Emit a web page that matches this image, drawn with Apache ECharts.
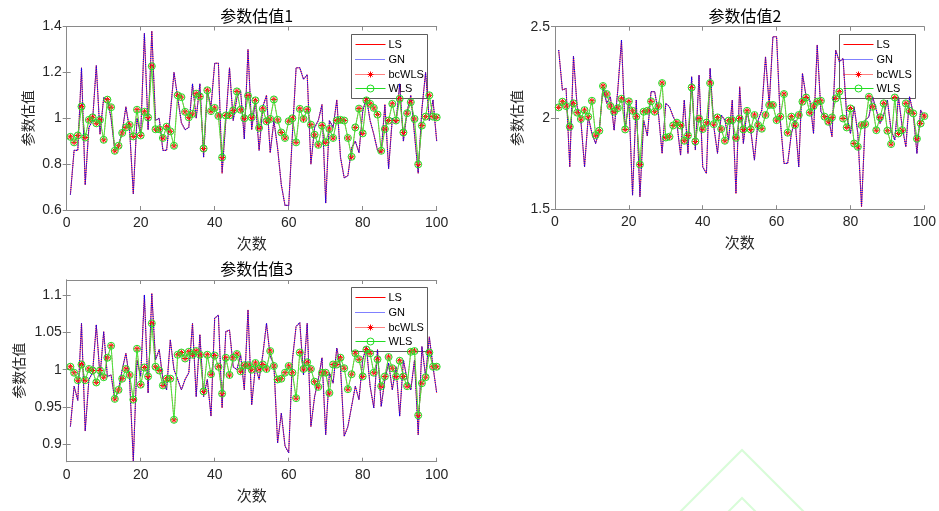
<!DOCTYPE html>
<html>
<head>
<meta charset="utf-8">
<script src="https://cdn.jsdelivr.net/npm/echarts@6/dist/echarts.min.js"></script>
<style>
  html, body { margin: 0; padding: 0; background: #fff; }
  #chart { width: 939px; height: 511px; }
</style>
</head>
<body>
<div id="chart"></div>
<script>
// 次数 1..100
const runs = [];
for (let i = 1; i <= 100; i++) runs.push(i);

const titles = ['参数估值1', '参数估值2', '参数估值3'];
const seriesNames = ['LS', 'GN', 'bcWLS', 'WLS'];

// 参数估值1
const ls1 = [0.667,0.86,0.86,1.22,0.71,0.96,0.99,1.23,0.93,1.09,1.08,1.00,0.86,0.88,0.94,1.05,0.95,0.67,1.00,0.93,
  1.37,0.95,1.38,0.99,1.00,0.86,0.86,1.02,1.20,1.09,0.98,0.95,0.96,1.15,1.00,1.15,0.83,1.12,1.05,1.24,
  1.24,0.76,0.99,1.22,0.99,1.09,1.12,0.91,1.30,0.95,1.08,0.86,1.05,1.10,0.85,0.99,0.87,0.71,0.62,0.62,
  0.93,1.22,1.22,1.17,1.19,0.80,0.96,0.99,1.06,0.63,0.99,0.96,1.08,0.83,0.74,0.75,0.87,0.90,0.85,1.03,
  1.09,0.99,0.93,0.86,0.85,1.06,0.78,1.00,0.98,1.15,0.90,1.03,1.10,0.93,0.76,1.04,1.20,0.99,1.08,0.90];
const wls1 = [0.919,0.895,0.925,1.051,0.916,0.993,1.004,0.978,0.993,0.906,1.081,1.048,0.858,0.880,0.936,0.960,0.971,0.921,1.037,0.925,
  1.028,1.003,1.227,0.952,0.952,0.914,0.963,0.943,0.880,1.100,1.092,1.028,1.004,1.019,1.107,1.095,0.868,1.122,1.031,1.045,
  1.010,0.829,1.012,1.013,1.034,1.117,1.037,1.000,1.098,1.004,1.078,0.958,1.041,0.987,0.997,1.082,0.993,0.938,0.914,0.987,
  1.000,0.895,1.041,0.997,1.037,0.972,0.928,0.884,0.968,0.895,0.953,0.914,0.990,0.993,0.990,0.914,0.832,0.960,1.042,0.934,
  1.078,1.063,1.045,1.016,0.858,0.953,0.990,1.063,0.990,1.085,0.938,1.022,1.070,0.997,0.799,0.968,1.007,1.100,1.007,1.004];

// 参数估值2
const ls2 = [2.372,2.153,2.162,1.732,2.339,2.061,1.988,1.732,2.007,1.915,1.860,1.933,2.171,2.080,2.116,1.933,2.153,2.427,1.933,2.098,
  1.577,2.098,1.568,1.988,1.901,2.144,2.144,2.025,1.806,2.080,2.061,2.007,1.970,1.796,2.098,1.806,2.226,1.824,2.235,1.732,
  1.696,2.272,1.952,1.806,2.016,1.988,1.879,2.098,1.586,2.171,1.860,2.043,1.933,1.769,1.988,2.043,2.335,2.071,2.445,2.445,
  1.988,1.751,1.751,1.915,1.988,1.732,2.244,2.116,2.098,1.915,2.400,2.034,2.007,2.007,1.897,2.372,2.308,2.326,2.007,1.915,
  2.061,1.915,1.513,1.988,2.007,2.116,2.043,1.970,2.016,2.098,1.933,1.879,2.116,1.952,1.842,2.116,2.025,1.806,2.043,2.007];
const wls2 = [2.058,2.089,2.065,1.952,2.080,2.029,1.994,2.043,2.007,2.094,1.906,1.930,2.175,2.131,2.065,2.034,2.054,2.105,1.937,2.091,
  2.039,2.007,1.745,2.034,2.039,2.091,2.034,2.065,2.191,1.893,1.897,1.959,1.974,1.959,1.875,1.904,2.167,1.871,1.996,1.939,
  1.974,2.191,1.966,2.003,1.939,1.875,1.985,1.988,1.891,1.997,1.937,2.039,1.937,2.016,1.961,1.941,2.016,2.071,2.071,1.988,
  2.007,2.131,1.919,2.007,1.961,2.016,2.089,2.112,2.029,2.065,2.089,2.094,2.007,1.979,2.003,2.107,2.144,1.997,1.948,2.052,
  1.860,1.842,1.961,1.966,2.116,2.061,1.933,2.003,2.080,1.930,1.857,2.112,1.915,1.933,2.080,2.039,2.025,1.886,1.970,2.010];

// 参数估值3
const ls3 = [0.924,0.978,0.959,1.062,0.918,0.987,0.996,1.060,0.991,1.051,0.991,0.993,0.960,0.973,1.000,1.022,0.987,0.878,1.013,0.991,
  1.100,0.969,1.102,1.013,1.027,0.987,0.973,1.040,1.000,0.987,0.973,0.987,0.996,1.062,0.964,1.047,0.964,0.987,0.938,1.069,
  1.073,0.949,1.051,1.053,1.004,1.000,1.020,0.973,1.080,0.953,1.004,0.987,1.020,1.062,1.018,1.007,0.902,0.942,0.898,0.889,
  1.013,1.058,1.063,0.993,1.062,0.924,0.964,0.987,1.016,0.913,0.996,0.982,1.029,1.004,0.911,0.924,0.951,0.978,0.960,1.013,
  1.031,0.978,0.949,1.027,0.951,0.987,1.009,0.973,1.004,0.938,1.013,0.987,0.973,1.013,0.913,1.031,0.991,1.044,1.004,0.969];
const wls3 = [1.004,0.996,0.986,1.007,0.986,1.001,0.999,0.983,0.999,0.990,1.016,1.032,0.961,0.973,0.988,1.001,0.993,0.960,1.028,0.980,
  1.003,0.991,1.062,1.004,0.999,0.979,0.988,0.988,0.933,1.020,1.023,1.015,1.024,1.020,1.025,1.020,0.971,1.020,0.994,1.019,
  1.004,0.968,1.016,0.993,1.016,1.021,0.998,1.006,1.006,1.000,1.009,1.001,1.007,1.001,1.025,1.005,0.987,0.988,0.996,1.005,
  0.996,0.962,1.023,1.001,1.010,1.001,0.984,0.977,0.996,0.996,0.969,1.007,1.007,1.016,1.002,0.974,0.994,1.022,1.014,0.991,
  1.027,1.022,0.996,1.014,0.978,0.991,1.017,1.002,0.991,1.012,0.991,0.978,1.024,1.025,0.939,0.982,0.990,1.023,1.004,1.004];

const lsData = [ls1, ls2, ls3];
const wlsData = [wls1, wls2, wls3];
const yRanges = [
  { min: 0.6, max: 1.4, ticks: [0.6, 0.8, 1, 1.2, 1.4] },
  { min: 1.5, max: 2.5, ticks: [1.5, 2, 2.5] },
  { min: 0.877, max: 1.12, ticks: [0.9, 0.95, 1, 1.05, 1.1] }
];

const grids = [
  { left: 66.7, top: 26.5, width: 370, height: 183.5 },
  { left: 555, top: 26.7, width: 370, height: 182.5 },
  { left: 66.7, top: 280, width: 370, height: 181.7 }
];
const nameGaps = [32, 31, 41];

const axisCol = '#8a8a8a';
const txtCol = '#262626';
const latin = 'Liberation Sans';
const cjk = 'Noto Sans CJK SC';
const starPath = 'M0,-10L0,10M-10,0L10,0M-7,-7L7,7M-7,7L7,-7';
const red = '#ff0000', blue = '#0000ff', green = '#22dd22';

function pairs(ys) { return ys.map((v, i) => [runs[i], v]); }

// legend box drawn by hand so that each entry looks like the MATLAB one
function legendBox(g) {
  const x0 = Math.round(g.left + g.width - 86) + 0.5, y0 = Math.round(g.top + 7) + 0.5;
  const kids = [{
    type: 'rect', shape: { x: x0, y: y0, width: 76, height: 64 },
    style: { fill: '#fff', stroke: '#333', lineWidth: 0.8 }
  }];
  const rowY = [10, 25, 40, 54];
  seriesNames.forEach((nm, j) => {
    const cy = y0 + rowY[j];
    const stroke = (j === 1) ? blue : (j === 3 ? green : red);
    const ln = { type: 'line', shape: { x1: x0 + 4, y1: cy, x2: x0 + 34, y2: cy },
      style: { stroke, lineWidth: 1 } };
    if (j === 1 || j === 2) ln.style.lineDash = [1, 1];
    kids.push(ln);
    if (j === 2) {
      const cx = x0 + 19, s = 3;
      [[0, -s, 0, s], [-s, 0, s, 0], [-2.1, -2.1, 2.1, 2.1], [-2.1, 2.1, 2.1, -2.1]].forEach(p => {
        kids.push({ type: 'line', shape: { x1: cx + p[0], y1: cy + p[1], x2: cx + p[2], y2: cy + p[3] },
          style: { stroke: red, lineWidth: 1 } });
      });
    }
    if (j === 3) {
      kids.push({ type: 'circle', shape: { cx: x0 + 19, cy, r: 3.5 },
        style: { stroke: green, lineWidth: 1, fill: 'rgba(0,0,0,0)' } });
    }
    kids.push({
      type: 'text', x: x0 + 37, y: cy,
      style: { text: nm, fill: '#000', fontSize: 11, fontFamily: latin, verticalAlign: 'middle', align: 'left' }
    });
  });
  return { type: 'group', silent: true, z: 100, children: kids };
}

const xAxis = [], yAxis = [], series = [], title = [], graphic = [];
grids.forEach((g, k) => {
  xAxis.push({
    type: 'value', gridIndex: k, min: 0, max: 100, interval: 20,
    name: '次数', nameLocation: 'middle', nameGap: 26,
    nameTextStyle: { color: txtCol, fontSize: 15, fontFamily: cjk },
    axisLine: { lineStyle: { color: axisCol, width: 1 } },
    axisTick: { inside: true, length: 4, lineStyle: { color: axisCol } },
    axisLabel: { color: txtCol, fontSize: 14, fontFamily: latin, margin: 6 },
    splitLine: { show: false }
  });
  xAxis.push({
    type: 'value', gridIndex: k, min: 0, max: 100, interval: 20, position: 'top',
    axisLine: { lineStyle: { color: axisCol, width: 1 } },
    axisTick: { inside: true, length: 4, lineStyle: { color: axisCol } },
    axisLabel: { show: false }, splitLine: { show: false }
  });
  const r = yRanges[k];
  yAxis.push({
    type: 'value', gridIndex: k, min: r.min, max: r.max,
    name: '参数估值', nameLocation: 'middle', nameGap: nameGaps[k], nameRotate: 90,
    nameTextStyle: { color: txtCol, fontSize: 14, fontFamily: cjk },
    axisLine: { show: true, lineStyle: { color: axisCol, width: 1 } },
    axisTick: { show: true, inside: true, length: 4, customValues: r.ticks, lineStyle: { color: axisCol } },
    axisLabel: { color: txtCol, fontSize: 14, fontFamily: latin, margin: 5, customValues: r.ticks },
    splitLine: { show: false }
  });
  yAxis.push({
    type: 'value', gridIndex: k, min: r.min, max: r.max, position: 'right',
    axisLine: { show: true, lineStyle: { color: axisCol, width: 1 } },
    axisTick: { show: true, inside: true, length: 4, customValues: r.ticks, lineStyle: { color: axisCol } },
    axisLabel: { show: false }, splitLine: { show: false }
  });
  title.push({
    text: titles[k], left: g.left + g.width / 2, top: g.top - 24, textAlign: 'center',
    textStyle: { color: '#000', fontSize: 16, fontWeight: 'normal', fontFamily: cjk }
  });
  const xi = 2 * k, yi = 2 * k;
  series.push({
    name: 'LS', type: 'line', xAxisIndex: xi, yAxisIndex: yi, data: pairs(lsData[k]),
    symbol: 'none', lineStyle: { color: red, width: 0.8 }, z: 2
  });
  series.push({
    name: 'GN', type: 'line', xAxisIndex: xi, yAxisIndex: yi, data: pairs(lsData[k]),
    symbol: 'none', lineStyle: { color: blue, width: 1.1, type: 'dotted' }, z: 3
  });
  series.push({
    name: 'bcWLS', type: 'line', xAxisIndex: xi, yAxisIndex: yi, data: pairs(wlsData[k]),
    symbol: 'path://' + starPath, symbolSize: 6,
    itemStyle: { color: 'rgba(0,0,0,0)', borderColor: red, borderWidth: 1 },
    lineStyle: { color: red, width: 0.8, type: 'dotted' }, z: 4
  });
  series.push({
    name: 'WLS', type: 'line', xAxisIndex: xi, yAxisIndex: yi, data: pairs(wlsData[k]),
    symbol: 'circle', symbolSize: 7,
    itemStyle: { color: 'rgba(0,0,0,0)', borderColor: green, borderWidth: 1 },
    lineStyle: { color: '#33ee33', width: 0.9 }, z: 5
  });
  graphic.push(legendBox(g));
});

// faint watermark chevrons bottom right
graphic.push(
  { type: 'polyline', silent: true, shape: { points: [[680, 512], [742, 450], [804, 512]] },
    style: { stroke: '#d8fcd8', lineWidth: 2, fill: null } },
  { type: 'polyline', silent: true, shape: { points: [[728, 512], [742, 498], [756, 512]] },
    style: { stroke: '#d8fcd8', lineWidth: 2, fill: null } }
);

const chart = echarts.init(document.getElementById('chart'), null, { renderer: 'canvas' });
chart.setOption({
  animation: false,
  backgroundColor: '#fff',
  title, grid: grids, xAxis, yAxis, series, graphic
});
</script>
</body>
</html>
